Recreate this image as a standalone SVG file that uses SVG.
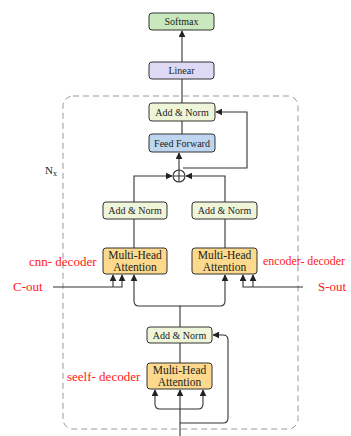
<svg xmlns="http://www.w3.org/2000/svg" width="351" height="436" viewBox="0 0 351 436">
<defs>
<marker id="ah" viewBox="0 0 10 10" refX="9" refY="5" markerWidth="7" markerHeight="7" markerUnits="userSpaceOnUse" orient="auto">
<path d="M0,0 L10,5 L0,10 z" fill="#222"/>
</marker>
<style>
.box{stroke:#333;stroke-width:1}
.sm{fill:#c9e8bd}
.li{fill:#dedaf6}
.an{fill:#eff5d8}
.ff{fill:#bed6ef}
.mh{fill:#fcd98c}
.t{font-family:"Liberation Serif",serif;font-size:10px;fill:#222;text-anchor:middle}
.tm{font-family:"Liberation Serif",serif;font-size:11.5px;fill:#222;text-anchor:middle}
.red{font-family:"Liberation Serif",serif;font-size:13px;fill:#ff2020}
.c{fill:none;stroke:#333;stroke-width:1.1}
.a{fill:none;stroke:#333;stroke-width:1.1;marker-end:url(#ah)}
</style>
</defs>
<rect x="0" y="0" width="351" height="436" fill="#fff"/>
<rect id="nx-frame" x="63" y="96" width="235" height="333" rx="10" fill="none" stroke="#999" stroke-width="1" stroke-dasharray="6,4"/>
<g id="connectors">
<path class="a" d="M182,62 V31"/>
<path class="c" d="M182,79 V103"/>
<path class="c" d="M182,121 V134"/>
<path class="a" d="M179,170 V153"/>
<path class="a" d="M183,168 H247 V112 H216"/>
<path class="a" d="M134,202 V176 H172"/>
<path class="a" d="M225,202 V176 H186"/>
<path class="c" d="M134,219 V248"/>
<path class="c" d="M225,219 V248"/>
<path class="a" d="M53,287 H122 V275"/>
<path class="a" d="M113,287 V275"/>
<path class="a" d="M303,287 H243 V275"/>
<path class="a" d="M253,287 V275"/>
<path class="a" d="M180,327 V306 H139 Q134,306 134,301 V275"/>
<path class="a" d="M180,306 H220 Q225,306 225,301 V275"/>
<path class="c" d="M180,343 V363"/>
<path class="a" d="M180,436 V390"/>
<path class="a" d="M180,409 H160 Q155,409 155,404 V390"/>
<path class="a" d="M180,409 H198 Q203,409 203,404 V390"/>
<path class="a" d="M180,423 H223 Q228,423 228,418 V340 Q228,335 223,335 H213"/>
</g>
<g id="softmax"><rect class="box sm" x="149" y="13" width="65" height="17" rx="3"/><text class="t" x="181.5" y="25">Softmax</text></g>
<g id="linear"><rect class="box li" x="149" y="62" width="65" height="17" rx="3"/><text class="t" x="181.5" y="74">Linear</text></g>
<g id="addnorm-top"><rect class="box an" x="149" y="103" width="66" height="18" rx="3"/><text class="t" x="182" y="115.5">Add &amp; Norm</text></g>
<g id="feedforward"><rect class="box ff" x="149" y="134" width="66" height="18" rx="3"/><text class="t" x="182" y="146.5">Feed Forward</text></g>
<g id="sum"><circle cx="179" cy="176" r="6" fill="#fff" stroke="#333" stroke-width="1.1"/><path d="M173,176 H185 M179,170 V182" stroke="#333" stroke-width="1.1"/></g>
<g id="addnorm-left"><rect class="box an" x="103" y="202" width="64" height="17" rx="3"/><text class="t" x="135" y="214">Add &amp; Norm</text></g>
<g id="addnorm-right"><rect class="box an" x="192" y="202" width="65" height="17" rx="3"/><text class="t" x="224.5" y="214">Add &amp; Norm</text></g>
<g id="mha-left"><rect class="box mh" x="103" y="248" width="64" height="26" rx="3"/><text class="tm" x="135" y="259">Multi-Head</text><text class="tm" x="135" y="271">Attention</text></g>
<g id="mha-right"><rect class="box mh" x="192" y="248" width="65" height="26" rx="3"/><text class="tm" x="224.5" y="259">Multi-Head</text><text class="tm" x="224.5" y="271">Attention</text></g>
<g id="addnorm-bottom"><rect class="box an" x="147" y="327" width="65" height="16" rx="3"/><text class="t" x="179.5" y="338.5">Add &amp; Norm</text></g>
<g id="mha-bottom"><rect class="box mh" x="147" y="363" width="65" height="26" rx="3"/><text class="tm" x="179.5" y="374">Multi-Head</text><text class="tm" x="179.5" y="386">Attention</text></g>
<g id="labels">
<text x="45" y="174" font-family="Liberation Serif,serif" font-size="11" fill="#222">N<tspan font-size="8" dy="2">x</tspan></text>
<text class="red" x="29" y="266">cnn- decoder</text>
<text class="red" x="13" y="291">C-out</text>
<text class="red" x="263" y="265" style="font-size:11.5px" textLength="82" lengthAdjust="spacingAndGlyphs">encoder- decoder</text>
<text class="red" x="318" y="291">S-out</text>
<text class="red" x="67" y="381">seelf- decoder</text>
</g>
</svg>
